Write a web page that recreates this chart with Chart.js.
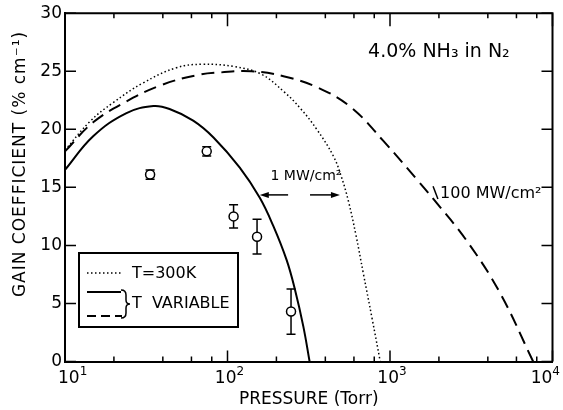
<!DOCTYPE html>
<html>
<head>
<meta charset="utf-8">
<script src="https://cdn.jsdelivr.net/npm/chart.js@4.4.0/dist/chart.umd.min.js"></script>
<style>
  html, body { margin: 0; padding: 0; background: #fff; }
  #wrap { width: 563px; height: 410px; }
</style>
</head>
<body>
<div id="wrap"><canvas id="gainChart" width="563" height="410"></canvas></div>
<script>
// pressure (Torr) and gain (%/cm)

// T variable, 1 MW/cm2
const solidPressure = [10, 14.9, 23.9, 35, 44, 61.5, 82, 119, 158, 191, 231, 260, 293, 320];
const solidGain = [16.5, 19.4, 21.4, 22.0, 21.75, 20.75, 19.3, 16.7, 14.1, 11.7, 8.75, 6.2, 3.0, 0];

// T = 300K
const roomPressure = [10, 14.3, 19.8, 30.3, 48.4, 70, 110, 161, 224, 283, 354, 448, 501, 555, 617, 685, 776, 871];
const roomGain = [18.2, 20.7, 22.3, 24.0, 25.3, 25.6, 25.4, 24.75, 23.2, 21.75, 20.0, 17.7, 15.95, 13.8, 10.9, 7.6, 3.7, 0];

// T variable, 100 MW/cm2
const hiPressure = [10, 14.9, 23.9, 39, 64, 91, 140, 224, 359, 575, 910, 1459, 1848, 2965, 4756, 7600];
const hiGain = [18.1, 20.6, 22.4, 23.8, 24.65, 24.9, 25.0, 24.55, 23.6, 21.9, 19.0, 15.7, 14.0, 10.4, 5.9, 0];

// measured points
const measPressure = [33.4, 74.5, 109, 152, 246];
const measGain = [16.1, 18.1, 12.5, 10.75, 4.3];
const measErr = [0.4, 0.4, 1.0, 1.5, 1.95];

const decades = [10, 100, 1000, 10000];
const gainTicks = [0, 5, 10, 15, 20, 25, 30];

const FONT = '"DejaVu Sans", sans-serif';

function pts(xs, ys) {
    return xs.map((x, i) => ({ x: x, y: ys[i] }));
}

// inward ticks on all four sides + top/right frame + decade labels
const frameTicks = {
    id: 'frameTicks',
    afterDatasetsDraw(chart) {
        const { ctx, chartArea: a, scales: { x, y } } = chart;
        ctx.save();
        ctx.strokeStyle = '#000';
        ctx.lineWidth = 2;
        ctx.beginPath();
        ctx.moveTo(a.left, a.top);
        ctx.lineTo(a.right, a.top);
        ctx.lineTo(a.right, a.bottom);
        ctx.stroke();

        ctx.lineWidth = 1.5;
        ctx.beginPath();
        decades.forEach(d => {
            [1, 2, 4, 6, 8].forEach(m => {
                const v = d * m;
                if (v > 10000) return;
                const px = x.getPixelForValue(v);
                const len = m === 1 ? 11 : 5;
                ctx.moveTo(px, a.bottom);
                ctx.lineTo(px, a.bottom - len);
                ctx.moveTo(px, a.top);
                ctx.lineTo(px, a.top + (m === 1 ? 13 : 5));
            });
        });
        gainTicks.forEach(g => {
            const py = y.getPixelForValue(g);
            ctx.moveTo(a.left, py);
            ctx.lineTo(a.left + 11, py);
            ctx.moveTo(a.right, py);
            ctx.lineTo(a.right - 11, py);
        });
        ctx.stroke();

        // decade labels: 10 with a raised exponent, kept inside the canvas
        ctx.fillStyle = '#000';
        ctx.textBaseline = 'alphabetic';
        ctx.textAlign = 'left';
        decades.forEach(d => {
            const exp = String(Math.round(Math.log10(d)));
            ctx.font = '17px ' + FONT;
            const wb = ctx.measureText('10').width;
            ctx.font = '12px ' + FONT;
            const we = ctx.measureText(exp).width;
            const w = wb + we;
            let left = x.getPixelForValue(d) - w / 2 + 2;
            left = Math.max(58, Math.min(left, chart.width - 3 - w));
            const base = a.bottom + 21;
            ctx.font = '17px ' + FONT;
            ctx.fillText('10', left, base);
            ctx.font = '12px ' + FONT;
            ctx.fillText(exp, left + wb, base - 8);
        });
        ctx.restore();
    }
};

// error bars under the circles
const errorBars = {
    id: 'errorBars',
    beforeDatasetsDraw(chart) {
        const { ctx, scales: { x, y } } = chart;
        ctx.save();
        ctx.strokeStyle = '#000';
        ctx.lineWidth = 1.5;
        ctx.beginPath();
        measPressure.forEach((p, i) => {
            const px = x.getPixelForValue(p);
            const top = y.getPixelForValue(measGain[i] + measErr[i]);
            const bot = y.getPixelForValue(measGain[i] - measErr[i]);
            ctx.moveTo(px, top);
            ctx.lineTo(px, bot);
            ctx.moveTo(px - 4.5, top);
            ctx.lineTo(px + 4.5, top);
            ctx.moveTo(px - 4.5, bot);
            ctx.lineTo(px + 4.5, bot);
        });
        ctx.stroke();
        ctx.restore();
    }
};

function arrow(ctx, x0, x1, yy) {
    const dir = Math.sign(x1 - x0);
    ctx.beginPath();
    ctx.moveTo(x0, yy);
    ctx.lineTo(x1 - dir * 7, yy);
    ctx.stroke();
    ctx.beginPath();
    ctx.moveTo(x1, yy);
    ctx.lineTo(x1 - dir * 9, yy - 3);
    ctx.lineTo(x1 - dir * 9, yy + 3);
    ctx.closePath();
    ctx.fill();
}

// legend box, annotations and the y title
const extras = {
    id: 'extras',
    afterDraw(chart) {
        const { ctx, scales: { x, y } } = chart;
        ctx.save();
        ctx.fillStyle = '#000';
        ctx.strokeStyle = '#000';

        // y axis title
        ctx.save();
        ctx.translate(21, 164);
        ctx.rotate(-Math.PI / 2);
        ctx.font = '17px ' + FONT;
        ctx.letterSpacing = '1px';
        ctx.textAlign = 'center';
        ctx.textBaseline = 'middle';
        ctx.fillText('GAIN COEFFICIENT (% cm\u207b\u00b9)', 0, 0);
        ctx.restore();

        // 4.0% NH3 in N2
        ctx.font = '19px ' + FONT;
        ctx.textAlign = 'left';
        ctx.textBaseline = 'alphabetic';
        ctx.fillText('4.0% NH\u2083 in N\u2082', x.getPixelForValue(733), y.getPixelForValue(26.2));

        // 1 MW/cm2 with arrows
        ctx.font = '14px ' + FONT;
        ctx.textAlign = 'center';
        ctx.fillText('1 MW/cm\u00b2', x.getPixelForValue(304), y.getPixelForValue(15.65));
        ctx.lineWidth = 1.5;
        const ay = y.getPixelForValue(14.35);
        arrow(ctx, x.getPixelForValue(236), x.getPixelForValue(158), ay);
        arrow(ctx, x.getPixelForValue(322), x.getPixelForValue(492), ay);

        // 100 MW/cm2
        ctx.font = '16px ' + FONT;
        ctx.textAlign = 'left';
        ctx.fillText('100 MW/cm\u00b2', x.getPixelForValue(2032), y.getPixelForValue(14.1));
        ctx.beginPath();
        ctx.moveTo(x.getPixelForValue(1841), y.getPixelForValue(15.1));
        ctx.lineTo(x.getPixelForValue(1972), y.getPixelForValue(14.0));
        ctx.stroke();

        // legend
        ctx.fillStyle = '#fff';
        ctx.fillRect(79, 253, 159, 74);
        ctx.fillStyle = '#000';
        ctx.lineWidth = 2;
        ctx.strokeRect(79, 253, 159, 74);

        ctx.lineWidth = 1.5;
        ctx.setLineDash([1.5, 2.5]);
        ctx.beginPath();
        ctx.moveTo(87, 273);
        ctx.lineTo(122, 273);
        ctx.stroke();

        ctx.lineWidth = 2;
        ctx.setLineDash([]);
        ctx.beginPath();
        ctx.moveTo(87, 292);
        ctx.lineTo(121, 292);
        ctx.stroke();

        ctx.setLineDash([9, 5]);
        ctx.beginPath();
        ctx.moveTo(87, 316);
        ctx.lineTo(122, 316);
        ctx.stroke();
        ctx.setLineDash([]);

        // brace
        ctx.lineWidth = 1.5;
        ctx.beginPath();
        ctx.moveTo(121, 290);
        ctx.quadraticCurveTo(126, 290, 126, 295);
        ctx.lineTo(126, 300);
        ctx.quadraticCurveTo(126, 304, 130, 304);
        ctx.quadraticCurveTo(126, 304, 126, 308);
        ctx.lineTo(126, 313);
        ctx.quadraticCurveTo(126, 318, 121, 318);
        ctx.stroke();

        ctx.font = '16px ' + FONT;
        ctx.textAlign = 'left';
        ctx.textBaseline = 'middle';
        ctx.fillText('T=300K', 132, 274);
        ctx.fillText('T  VARIABLE', 132, 304);

        ctx.restore();
    }
};

new Chart(document.getElementById('gainChart'), {
    type: 'line',
    data: {
        datasets: [
            {
                type: 'scatter',
                data: pts(measPressure, measGain),
                pointStyle: 'circle',
                pointRadius: 4.5,
                pointBackgroundColor: '#fff',
                pointBorderColor: '#000',
                pointBorderWidth: 1.5,
                showLine: false
            },
            {
                data: pts(solidPressure, solidGain),
                borderColor: '#000',
                borderWidth: 2,
                pointRadius: 0,
                tension: 0.4
            },
            {
                data: pts(roomPressure, roomGain),
                borderColor: '#000',
                borderWidth: 1.5,
                borderDash: [1.5, 2.5],
                pointRadius: 0,
                tension: 0.4
            },
            {
                data: pts(hiPressure, hiGain),
                borderColor: '#000',
                borderWidth: 2,
                borderDash: [13, 7],
                pointRadius: 0,
                tension: 0.4
            }
        ]
    },
    options: {
        responsive: false,
        animation: false,
        events: [],
        layout: { padding: { top: 13, right: 10.5, left: 0, bottom: 0 } },
        plugins: {
            legend: { display: false },
            tooltip: { enabled: false }
        },
        scales: {
            x: {
                type: 'logarithmic',
                min: 10,
                max: 10000,
                grid: { display: false, drawTicks: false },
                border: { display: true, color: '#000', width: 2 },
                afterBuildTicks: scale => {
                    scale.ticks = decades.map(v => ({ value: v, major: true }));
                },
                afterFit: scale => {
                    scale.height = 48.5;
                    scale.paddingLeft = 0;
                    scale.paddingRight = 0;
                },
                ticks: { display: false },
                title: {
                    display: true,
                    text: 'PRESSURE (Torr)',
                    color: '#000',
                    font: { family: FONT, size: 17 },
                    padding: { top: 0, bottom: 0 }
                }
            },
            y: {
                min: 0,
                max: 30,
                grid: { display: false, drawTicks: false },
                border: { display: true, color: '#000', width: 2 },
                afterFit: scale => {
                    scale.width = 65;
                },
                ticks: {
                    stepSize: 5,
                    padding: 3,
                    color: '#000',
                    font: { family: FONT, size: 17 }
                }
            }
        }
    },
    plugins: [errorBars, frameTicks, extras]
});
</script>
</body>
</html>
